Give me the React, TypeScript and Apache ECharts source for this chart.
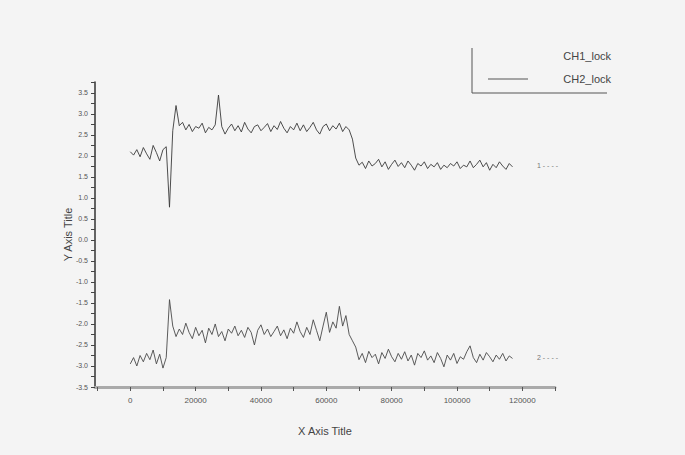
import React, { useEffect, useRef } from "react";
import * as echarts from "echarts";

const xStep = 1000;
const ch1Values = [
  2.10, 2.02, 2.15, 1.98, 2.20, 2.05, 1.92, 2.25, 2.08, 1.88, 2.15, 2.22,
  0.78,
  2.60, 3.20, 2.72, 2.80, 2.62, 2.75, 2.58, 2.70, 2.66, 2.78, 2.55, 2.68, 2.62, 2.74, 3.45, 2.70,
  2.52, 2.66, 2.76, 2.60, 2.72, 2.57, 2.80, 2.64, 2.55, 2.70, 2.74, 2.60, 2.68, 2.77, 2.58, 2.72,
  2.63, 2.82, 2.66, 2.55, 2.70, 2.62, 2.78, 2.60, 2.74, 2.58, 2.68, 2.80, 2.62, 2.52, 2.70, 2.76,
  2.60, 2.72, 2.64, 2.78, 2.58, 2.70, 2.62, 2.40,
  1.95, 1.78, 1.85, 1.70, 1.88, 1.76, 1.82, 1.92, 1.74, 1.86, 1.68, 1.80, 1.90, 1.75, 1.84, 1.72,
  1.88, 1.78, 1.66, 1.82, 1.76, 1.86, 1.70, 1.80, 1.74, 1.84, 1.68, 1.78, 1.72, 1.82, 1.76, 1.86,
  1.70, 1.78, 1.74, 1.88, 1.72, 1.80, 1.90, 1.74, 1.84, 1.66, 1.80, 1.72, 1.86, 1.76, 1.68, 1.82,
  1.74,
];
const ch2Values = [
  -2.95, -2.80, -3.00, -2.75, -2.90, -2.70, -2.85, -2.62, -2.95, -2.72, -3.05, -2.80,
  -1.42,
  -2.05, -2.30, -2.12, -2.25, -1.98, -2.20, -2.35, -2.08, -2.28, -2.15, -2.45, -2.10, -2.25, -2.00,
  -2.30, -2.18, -2.40, -2.12, -2.22, -2.05, -2.28, -2.15, -2.32, -2.08, -2.20, -2.50, -2.15, -2.02,
  -2.25, -2.12, -2.30, -2.18, -2.05, -2.28, -2.14, -2.35, -2.10, -2.22, -1.95, -2.18, -2.32, -2.08,
  -2.25, -1.90, -2.15, -2.40, -2.05, -1.72, -2.20, -1.95, -2.10, -1.58, -2.05, -1.80, -2.25, -2.40,
  -2.55, -2.85, -2.70, -2.92, -2.65, -2.80, -2.72, -2.95, -2.68, -2.82, -2.60, -2.78, -2.90, -2.70,
  -2.84, -2.66, -2.88, -2.74, -2.98, -2.70, -2.80, -2.64, -2.86, -2.76, -2.92, -2.68, -2.82, -3.02,
  -2.74, -2.86, -2.70, -2.94, -2.78, -2.84, -2.66, -2.52, -2.80, -2.92, -2.72, -2.86, -2.68, -2.78,
  -2.90, -2.74, -2.84, -2.70, -2.88, -2.76, -2.82,
];
const xLabels = [0, 20000, 40000, 60000, 80000, 100000, 120000];
const xMinorTicks = [-10000, 0, 10000, 20000, 30000, 40000, 50000, 60000, 70000, 80000, 90000, 100000, 110000, 120000, 130000];
const yLabels = [-3.5, -3.0, -2.5, -2.0, -1.5, -1.0, -0.5, 0.0, 0.5, 1.0, 1.5, 2.0, 2.5, 3.0, 3.5];
const yTicks = [-3.5, -3.25, -3.0, -2.75, -2.5, -2.25, -2.0, -1.75, -1.5, -1.25, -1.0, -0.75, -0.5, -0.25, 0, 0.25, 0.5, 0.75, 1.0, 1.25, 1.5, 1.75, 2.0, 2.25, 2.5, 2.75, 3.0, 3.25, 3.5, 3.75];
const seriesNames = ["CH1_lock", "CH2_lock"];
const sideLabels = ["1 - - - -", "2 - - - -"];

export default function App() {
  const ref = useRef<HTMLDivElement>(null);
  useEffect(() => {
    if (!ref.current) return;
    const chart = echarts.init(ref.current, null, { renderer: "svg" });
    const ch1 = ch1Values.map((v, i) => [i * xStep, v]);
    const ch2 = ch2Values.map((v, i) => [i * xStep, v]);
    const font = "Liberation Sans, Arial, sans-serif";
    chart.setOption({
      animation: false,
      backgroundColor: "#f4f4f4",
      grid: { left: 95, top: 82, right: 130, bottom: 68 },
      xAxis: {
        type: "value",
        min: -10800,
        max: 130000,
        name: "X Axis Title",
        nameLocation: "middle",
        nameGap: 38,
        nameTextStyle: { fontSize: 11, color: "#444", fontFamily: font },
        axisLine: { show: true, onZero: false, lineStyle: { color: "#aaa", width: 3 } },
        axisTick: { show: true, customValues: xMinorTicks, length: 4, lineStyle: { color: "#555", width: 1 } },
        axisLabel: {
          customValues: xLabels,
          fontSize: 8,
          color: "#555",
          margin: 9,
          fontFamily: font,
          formatter: (v: number) => String(v),
        },
        splitLine: { show: false },
      },
      yAxis: {
        type: "value",
        min: -3.5,
        max: 3.76,
        name: "Y Axis Title",
        nameLocation: "middle",
        nameGap: 22,
        nameMoveOverlap: false,
        nameTextStyle: { fontSize: 11, color: "#444", fontFamily: font },
        axisLine: { show: true, onZero: false, lineStyle: { color: "#333", width: 1.5 } },
        axisTick: { show: true, customValues: yTicks, length: 4, lineStyle: { color: "#444", width: 1 } },
        axisLabel: {
          customValues: yLabels,
          fontSize: 7,
          color: "#555",
          margin: 7,
          fontFamily: font,
          formatter: (v: number) => v.toFixed(1),
        },
        splitLine: { show: false },
      },
      series: [
        {
          name: seriesNames[0],
          type: "line",
          data: ch1,
          showSymbol: false,
          lineStyle: { color: "#3a3a3a", width: 0.9 },
        },
        {
          name: seriesNames[1],
          type: "line",
          data: ch2,
          showSymbol: false,
          lineStyle: { color: "#4a4a4a", width: 0.9 },
        },
      ],
      graphic: [
        { type: "line", shape: { x1: 472, y1: 48, x2: 472, y2: 93 }, style: { stroke: "#555", lineWidth: 1 } },
        { type: "line", shape: { x1: 472, y1: 93, x2: 607, y2: 93 }, style: { stroke: "#555", lineWidth: 1 } },
        { type: "text", x: 611, y: 56, style: { text: seriesNames[0], fill: "#444", fontSize: 11, fontFamily: font, align: "right", verticalAlign: "middle" } },
        { type: "text", x: 611, y: 79, style: { text: seriesNames[1], fill: "#444", fontSize: 11, fontFamily: font, align: "right", verticalAlign: "middle" } },
        { type: "line", shape: { x1: 488, y1: 79, x2: 528, y2: 79 }, style: { stroke: "#555", lineWidth: 1 } },
        { type: "text", x: 537, y: 165, style: { text: sideLabels[0], fill: "#777", fontSize: 7, fontFamily: font, verticalAlign: "middle" } },
        { type: "text", x: 537, y: 357, style: { text: sideLabels[1], fill: "#777", fontSize: 7, fontFamily: font, verticalAlign: "middle" } },
      ],
    });
    return () => chart.dispose();
  }, []);
  return (
    <div
      ref={ref}
      style={{ position: "fixed", left: 0, top: 0, width: 685, height: 455 }}
    />
  );
}
